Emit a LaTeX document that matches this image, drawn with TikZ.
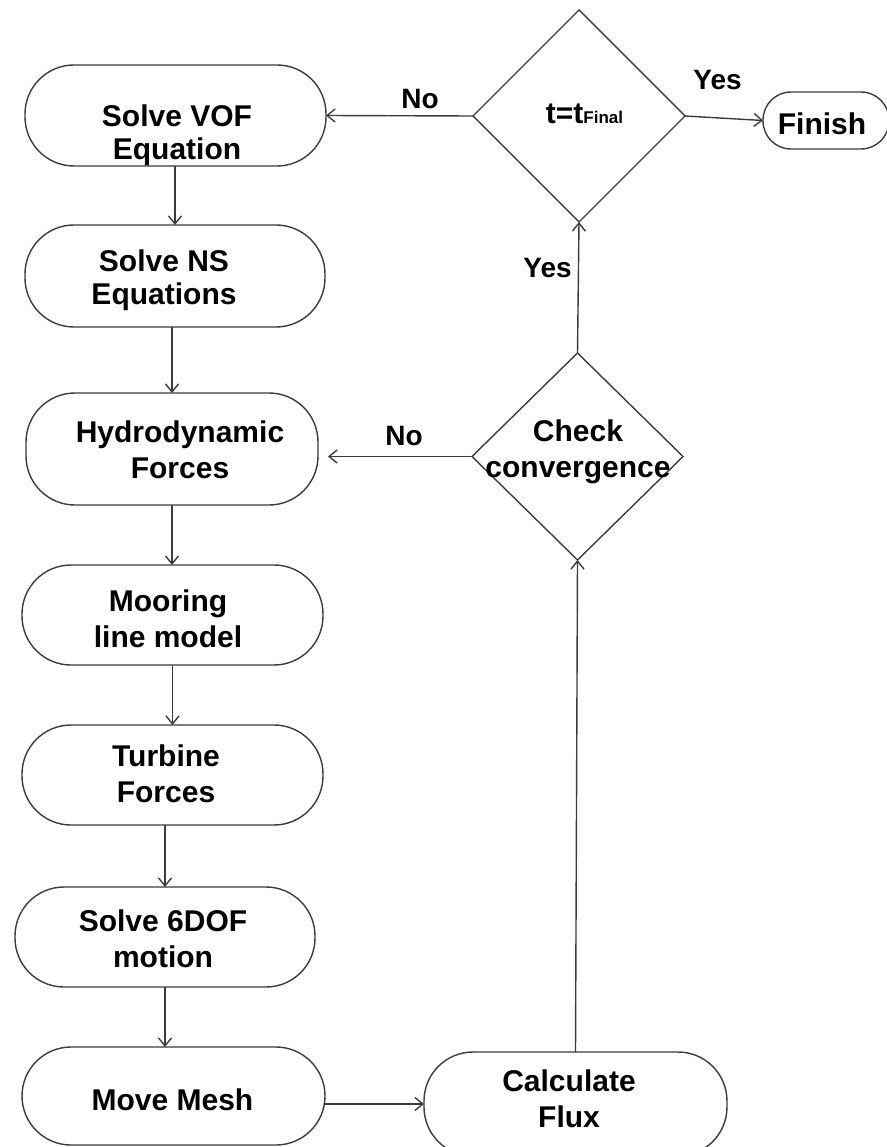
\documentclass[tikz,border=0pt]{standalone}
\usepackage{fontspec}
\setmainfont{Liberation Sans}
\usetikzlibrary{arrows.meta,shapes.geometric}
\definecolor{linegray}{HTML}{3C3C3C}
\tikzset{
  box/.style={draw=linegray, line width=1.4pt, rounded corners=49pt, inner sep=0pt, outer sep=0pt},
  decision/.style={draw=linegray, line width=1.4pt, diamond, inner sep=0pt, outer sep=0pt},
  txt/.style={align=center, inner sep=0pt, font=\fontsize{30}{36}\selectfont\bfseries},
  lbl/.style={inner sep=0pt, anchor=base, font=\fontsize{28}{34}\selectfont\bfseries},
  arr/.style={draw=linegray, line width=1.4pt, -{Straight Barb[length=8pt,width=13pt,line width=1.4pt]}},
}
\begin{document}
\begin{tikzpicture}[x=1pt,y=-1pt]
\useasboundingbox (0,0) rectangle (886,1147);
% boxes
\node[box, minimum width=301, minimum height=101] (vof) at (175.5,115.5) {};
\node[box, minimum width=300, minimum height=102] (ns) at (175,276) {};
\node[box, minimum width=292, minimum height=112] (hyd) at (172,449) {};
\node[box, minimum width=301, minimum height=100] (moor) at (172.5,615) {};
\node[box, minimum width=301, minimum height=100] (turb) at (172.5,775) {};
\node[box, minimum width=300, minimum height=100] (dof) at (165,937) {};
\node[box, minimum width=303, minimum height=98] (mesh) at (173.5,1096) {};
\node[box, minimum width=303, minimum height=104] (flux) at (575.5,1104) {};
\node[box, rounded corners=28pt, minimum width=126, minimum height=57] (fin) at (826,120.5) {};
\node[decision, minimum width=212, minimum height=212] (tfin) at (579,116) {};
\node[decision, minimum width=211, minimum height=207] (conv) at (577.5,456.5) {};
% texts
\node[txt, anchor=north, font=\fontsize{30}{33}\selectfont\bfseries] (tvof) at (177,105) {Solve VOF\\Equation};
\node[txt, anchor=north, font=\fontsize{30}{33}\selectfont\bfseries] (tns) at (164,250) {Solve NS\\Equations};
\node[txt, anchor=north] (thyd) at (180,421) {Hydrodynamic\\Forces};
\node[txt, anchor=north] (tmoor) at (168,590) {Mooring\\line model};
\node[txt, anchor=north] (tturb) at (166,745) {Turbine\\Forces};
\node[txt, anchor=north] (tdof) at (163,910) {Solve 6DOF\\motion};
\node[txt, anchor=base] (tmesh) at (172.5,1110) {Move Mesh};
\node[txt, anchor=north] (tflux) at (569,1070) {Calculate\\Flux};
\node[txt, anchor=base] (tfinish) at (822,135) {Finish};
\node[txt, anchor=north] (tconv) at (578,420) {Check\\convergence};
\node[txt, anchor=base] (ttfin) at (584.5,124) {t=t{\fontsize{17}{20}\selectfont Final}};
% labels
\node[lbl] (lno1) at (420,109) {No};
\node[lbl] (lyes1) at (717.5,90) {Yes};
\node[lbl] (lyes2) at (547.5,277) {Yes};
\node[lbl] (lno2) at (404,445) {No};
% connectors
\draw[arr] (vof.south -| ns.north) -- (ns.north);
\draw[arr] (ns.south -| hyd.north) -- (hyd.north);
\draw[arr] (hyd.south) -- (hyd.south |- moor.north);
\draw[arr] (moor.south) -- (turb.north);
\draw[arr] (turb.south -| dof.north) -- (dof.north);
\draw[arr] (dof.south) -- (dof.south |- mesh.north);
\draw[arr] (mesh.east |- flux.west) -- (flux.west);
\draw[arr] (flux.north) -- (conv.south);
\draw[arr] (conv.north) -- (tfin.south);
\draw[arr, shorten >=10pt] (conv.west) -- (conv.west -| hyd.east);
\draw[arr] (tfin.west) -- (vof.east);
\draw[arr] (tfin.east) -- (fin.west);
\end{tikzpicture}
\end{document}
